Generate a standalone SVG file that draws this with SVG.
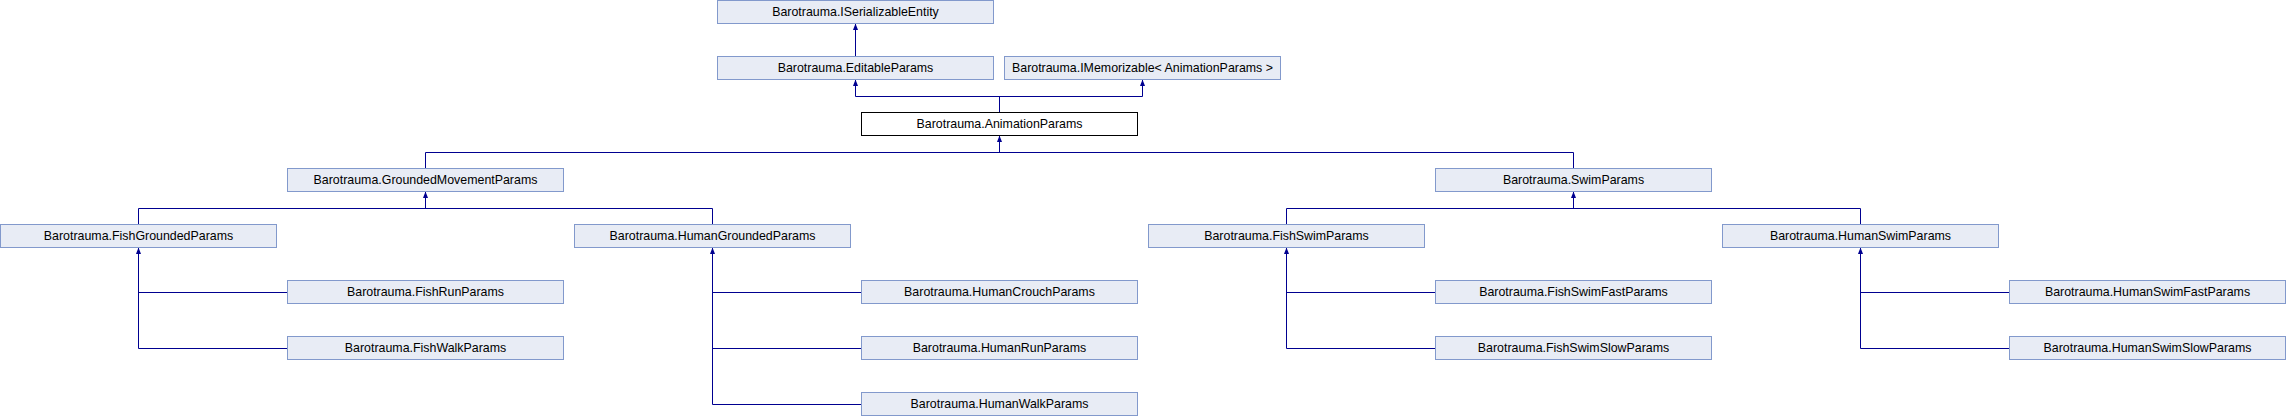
<svg xmlns="http://www.w3.org/2000/svg" width="2286" height="416" viewBox="0 0 2286 416">
<style>
.n rect{fill:#E8ECF5;stroke:#8299CC;stroke-width:1}
.n.cur rect{fill:#FFFFFF;stroke:#000000}
.n text{font-family:"Liberation Sans",Arial,sans-serif;font-size:12.4px;fill:#000000;text-anchor:middle}
.e path{fill:none;stroke:#000090;stroke-width:1}
.e polygon{fill:#000090;stroke:none}
</style>
<rect width="2286" height="416" fill="#FFFFFF"/>
<g id="edges" class="e">
<path d="M855.5,56V24"/><polygon points="855.5,23.5 853,30 858,30"/>
<path d="M855.5,80V96.5H1142.5V80M999.5,112V96.5"/>
<polygon points="855.5,79.5 853,86 858,86"/><polygon points="1142.5,79.5 1140,86 1145,86"/>
<path d="M999.5,136V152.5M425.5,168V152.5H1573.5V168"/><polygon points="999.5,135.5 997,142 1002,142"/>
<path d="M425.5,192V208.5M138.5,224V208.5H712.5V224"/><polygon points="425.5,191.5 423,198 428,198"/>
<path d="M1573.5,192V208.5M1286.5,224V208.5H1860.5V224"/><polygon points="1573.5,191.5 1571,198 1576,198"/>
<path d="M138.5,248V348.5H287M138.5,292.5H287"/><polygon points="138.5,247.5 136,254 141,254"/>
<path d="M712.5,248V404.5H861M712.5,292.5H861M712.5,348.5H861"/><polygon points="712.5,247.5 710,254 715,254"/>
<path d="M1286.5,248V348.5H1435M1286.5,292.5H1435"/><polygon points="1286.5,247.5 1284,254 1289,254"/>
<path d="M1860.5,248V348.5H2009M1860.5,292.5H2009"/><polygon points="1860.5,247.5 1858,254 1863,254"/>
</g>
<g id="ISerializableEntity" class="n"><rect x="717.5" y="0.5" width="276" height="23"/><text x="855.5" y="16">Barotrauma.ISerializableEntity</text></g>
<g id="EditableParams" class="n"><rect x="717.5" y="56.5" width="276" height="23"/><text x="855.5" y="72">Barotrauma.EditableParams</text></g>
<g id="IMemorizable" class="n"><rect x="1004.5" y="56.5" width="276" height="23"/><text x="1142.5" y="72">Barotrauma.IMemorizable&lt; AnimationParams &gt;</text></g>
<g id="AnimationParams" class="n cur"><rect x="861.5" y="112.5" width="276" height="23"/><text x="999.5" y="128">Barotrauma.AnimationParams</text></g>
<g id="GroundedMovementParams" class="n"><rect x="287.5" y="168.5" width="276" height="23"/><text x="425.5" y="184">Barotrauma.GroundedMovementParams</text></g>
<g id="SwimParams" class="n"><rect x="1435.5" y="168.5" width="276" height="23"/><text x="1573.5" y="184">Barotrauma.SwimParams</text></g>
<g id="FishGroundedParams" class="n"><rect x="0.5" y="224.5" width="276" height="23"/><text x="138.5" y="240">Barotrauma.FishGroundedParams</text></g>
<g id="HumanGroundedParams" class="n"><rect x="574.5" y="224.5" width="276" height="23"/><text x="712.5" y="240">Barotrauma.HumanGroundedParams</text></g>
<g id="FishSwimParams" class="n"><rect x="1148.5" y="224.5" width="276" height="23"/><text x="1286.5" y="240">Barotrauma.FishSwimParams</text></g>
<g id="HumanSwimParams" class="n"><rect x="1722.5" y="224.5" width="276" height="23"/><text x="1860.5" y="240">Barotrauma.HumanSwimParams</text></g>
<g id="FishRunParams" class="n"><rect x="287.5" y="280.5" width="276" height="23"/><text x="425.5" y="296">Barotrauma.FishRunParams</text></g>
<g id="FishWalkParams" class="n"><rect x="287.5" y="336.5" width="276" height="23"/><text x="425.5" y="352">Barotrauma.FishWalkParams</text></g>
<g id="HumanCrouchParams" class="n"><rect x="861.5" y="280.5" width="276" height="23"/><text x="999.5" y="296">Barotrauma.HumanCrouchParams</text></g>
<g id="HumanRunParams" class="n"><rect x="861.5" y="336.5" width="276" height="23"/><text x="999.5" y="352">Barotrauma.HumanRunParams</text></g>
<g id="HumanWalkParams" class="n"><rect x="861.5" y="392.5" width="276" height="23"/><text x="999.5" y="408">Barotrauma.HumanWalkParams</text></g>
<g id="FishSwimFastParams" class="n"><rect x="1435.5" y="280.5" width="276" height="23"/><text x="1573.5" y="296">Barotrauma.FishSwimFastParams</text></g>
<g id="FishSwimSlowParams" class="n"><rect x="1435.5" y="336.5" width="276" height="23"/><text x="1573.5" y="352">Barotrauma.FishSwimSlowParams</text></g>
<g id="HumanSwimFastParams" class="n"><rect x="2009.5" y="280.5" width="276" height="23"/><text x="2147.5" y="296">Barotrauma.HumanSwimFastParams</text></g>
<g id="HumanSwimSlowParams" class="n"><rect x="2009.5" y="336.5" width="276" height="23"/><text x="2147.5" y="352">Barotrauma.HumanSwimSlowParams</text></g>
</svg>
